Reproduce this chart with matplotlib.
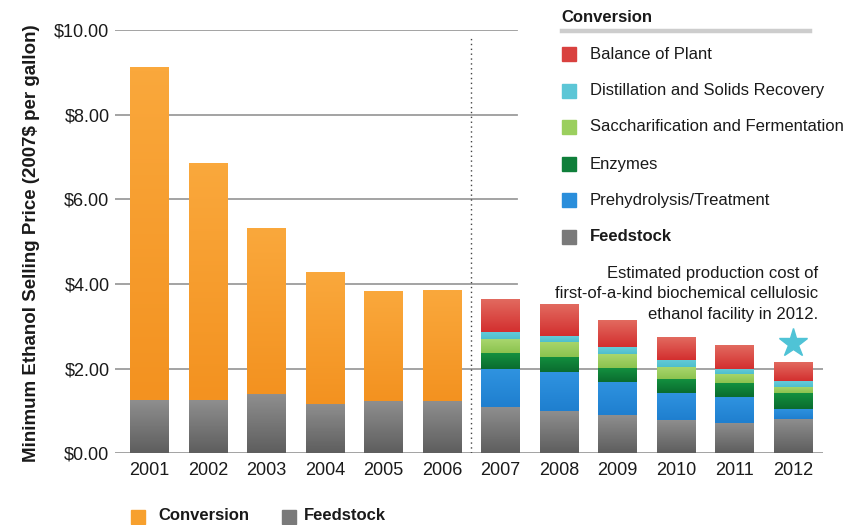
import numpy as np
import matplotlib
matplotlib.use("Agg")
import matplotlib.pyplot as plt
from matplotlib.colors import LinearSegmentedColormap
from matplotlib.patches import Rectangle
from matplotlib.lines import Line2D
from matplotlib.ticker import FuncFormatter

plt.rcParams['font.family'] = ['Liberation Sans', 'DejaVu Sans']

# ---------------- data ----------------
years = ['2001', '2002', '2003', '2004', '2005', '2006',
         '2007', '2008', '2009', '2010', '2011', '2012']
early_years = years[:6]
late_years = years[6:]

feedstock = [1.27, 1.26, 1.41, 1.16, 1.23, 1.23,
             1.10, 1.01, 0.91, 0.79, 0.71, 0.81]
conversion_early = [7.86, 5.58, 3.90, 3.10, 2.59, 2.60]

prehydrolysis = [0.89, 0.90, 0.78, 0.64, 0.61, 0.24]
enzymes = [0.37, 0.36, 0.33, 0.33, 0.33, 0.37]
saccharification = [0.33, 0.36, 0.33, 0.27, 0.22, 0.15]
distillation = [0.18, 0.14, 0.16, 0.17, 0.13, 0.14]
balance_of_plant = [0.77, 0.75, 0.62, 0.53, 0.56, 0.43]

late_series_names = ['Prehydrolysis/Treatment', 'Enzymes',
                     'Saccharification and Fermentation',
                     'Distillation and Solids Recovery', 'Balance of Plant']
late_series = [prehydrolysis, enzymes, saccharification, distillation, balance_of_plant]

yticks = [0, 2, 4, 6, 8, 10]
target_year = '2012'
target_value = 2.61

# colours: (top, bottom) gradient per series
grad_colors = {
    'Feedstock': ('#8f8f8f', '#5e5e5e'),
    'Conversion': ('#faa83c', '#f39220'),
    'Prehydrolysis/Treatment': ('#2f93e0', '#1f7fcf'),
    'Enzymes': ('#13903f', '#0a6c2f'),
    'Saccharification and Fermentation': ('#a8d66d', '#8cc34f'),
    'Distillation and Solids Recovery': ('#66ccd9', '#4fbfcd'),
    'Balance of Plant': ('#e26a5f', '#d32f2f'),
}
flat_colors = {
    'Feedstock': '#7a7a7a',
    'Conversion': '#f7a02e',
    'Prehydrolysis/Treatment': '#2a8edb',
    'Enzymes': '#0f7f3a',
    'Saccharification and Fermentation': '#9bcf5e',
    'Distillation and Solids Recovery': '#5cc6d6',
    'Balance of Plant': '#d9413f',
}

W, H = 854, 525
fig = plt.figure(figsize=(W / 100, H / 100), dpi=100)
fx = lambda px: px / W
fy = lambda py: 1 - py / H

ax = fig.add_axes([fx(115), fy(453.3), fx(823) - fx(115), fy(30) - fy(453.3)])

x_all = np.arange(len(years))
x_early = x_all[:6]
x_late = x_all[6:]
bw = 0.66


def gradient_fill(container, name):
    top, bot = grad_colors[name]
    cmap = LinearSegmentedColormap.from_list(name, [bot, top])
    grad = np.linspace(0, 1, 64).reshape(-1, 1)
    for p in container.patches:
        x0, y0, w, h = p.get_x(), p.get_y(), p.get_width(), p.get_height()
        if h <= 0:
            continue
        ax.imshow(grad, extent=[x0, x0 + w, y0, y0 + h], origin='lower',
                  cmap=cmap, aspect='auto', interpolation='bilinear', zorder=3)


# feedstock for all years
bc = ax.bar(x_all, feedstock, width=bw, color=flat_colors['Feedstock'], zorder=2)
gradient_fill(bc, 'Feedstock')

# conversion (early years)
bc = ax.bar(x_early, conversion_early, width=bw, bottom=feedstock[:6],
            color=flat_colors['Conversion'], zorder=2)
gradient_fill(bc, 'Conversion')

# detailed conversion (late years)
bottom = np.array(feedstock[6:], dtype=float)
for name, vals in zip(late_series_names, late_series):
    bc = ax.bar(x_late, vals, width=bw, bottom=bottom, color=flat_colors[name], zorder=2)
    gradient_fill(bc, name)
    bottom = bottom + np.array(vals)

# star
ax.plot([years.index(target_year)], [target_value], marker='*', markersize=21,
        color='#4fc3d6', linestyle='none', zorder=4)

ax.set_xlim(-0.59, 11.51)
ax.set_ylim(0, 10)

# grid lines (short ones stop before the legend)
for yv in yticks:
    xmax = 1.0 if yv <= 2 else 0.568
    ax.axhline(yv, xmin=0, xmax=xmax, color='#9c9c9c', lw=1.3, zorder=1)

# dotted separator
ax.axvline(5.5, ymin=0, ymax=0.988, color='#444444', lw=1.0,
           linestyle=(0, (1, 2.5)), zorder=1)

for s in ax.spines.values():
    s.set_visible(False)
ax.set_yticks(yticks)
ax.yaxis.set_major_formatter(FuncFormatter(lambda v, p: f'${v:.2f}'))
ax.set_xticks(x_all)
ax.set_xticklabels(years)
ax.tick_params(axis='both', length=0, labelsize=13, labelcolor='#1a1a1a')
ax.tick_params(axis='y', pad=4)
ax.tick_params(axis='x', pad=6)

# y label
fig.text(fx(32), fy(243), 'Minimum Ethanol Selling Price (2007$ per gallon)',
         rotation=90, ha='center', va='center', fontsize=13.5,
         fontweight='bold', color='#1a1a1a')

# annotation
ax.annotate('Estimated production cost of\nfirst-of-a-kind biochemical cellulosic\n'
            'ethanol facility in 2012.',
            xy=(fx(818), fy(294)), xycoords='figure fraction',
            ha='right', va='center', multialignment='right',
            fontsize=12, color='#1a1a1a', linespacing=1.42)

# right legend
fig.text(fx(561), fy(17), 'Conversion', fontsize=12, fontweight='bold',
         ha='left', va='center', color='#1a1a1a')
fig.add_artist(Line2D([fx(562), fx(810)], [fy(31), fy(31)], color='#cdcdcd', lw=3.2))
legend_names = ['Balance of Plant', 'Distillation and Solids Recovery',
                'Saccharification and Fermentation', 'Enzymes',
                'Prehydrolysis/Treatment', 'Feedstock']
row_y = [54.3, 90.7, 126.7, 164.3, 200, 236.7]
for name, yy in zip(legend_names, row_y):
    fig.add_artist(Rectangle((fx(562), fy(yy + 7)), fx(14), 14 / H,
                             transform=fig.transFigure, color=flat_colors[name]))
    fig.text(fx(590), fy(yy), name, fontsize=12, ha='left', va='center',
             color='#1a1a1a', fontweight='bold' if name == 'Feedstock' else 'normal')

# bottom legend
for name, sx, tx in [('Conversion', 131, 158), ('Feedstock', 282, 304)]:
    fig.add_artist(Rectangle((fx(sx), fy(524)), fx(14), 14 / H,
                             transform=fig.transFigure, color=flat_colors[name]))
    fig.text(fx(tx), fy(516), name, fontsize=12, fontweight='bold',
             ha='left', va='center', color='#1a1a1a')

fig.savefig('out.png', dpi=100)
